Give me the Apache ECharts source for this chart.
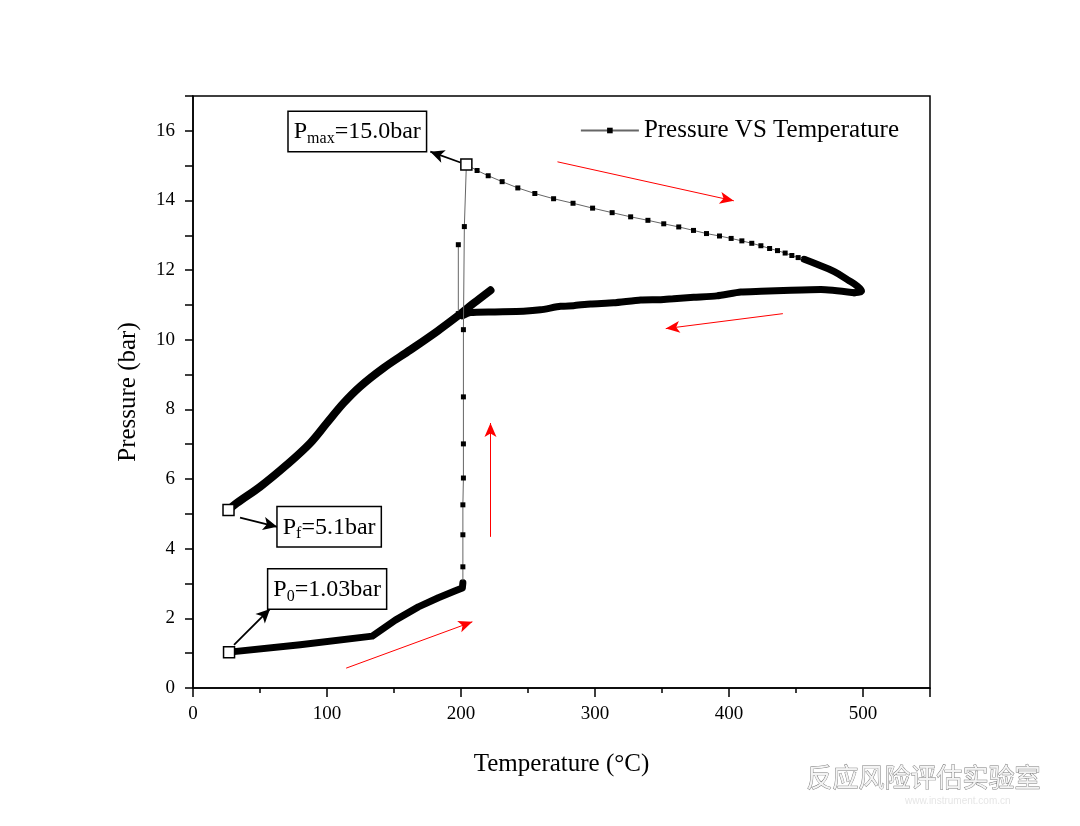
<!DOCTYPE html>
<html>
<head>
<meta charset="utf-8">
<script src="https://cdn.jsdelivr.net/npm/echarts@6/dist/echarts.min.js"></script>
<style>html,body{margin:0;padding:0;background:#fff}#c{width:1080px;height:826px}</style>
</head>
<body>
<div id="c"></div>
<script>
// ---------- data ----------
const seriesName = 'Pressure VS Temperature';
const xAxisName = 'Temperature (°C)';
const yAxisName = 'Pressure (bar)';
const xTickLabels = [0, 100, 200, 300, 400, 500];
const yTickLabels = [0, 2, 4, 6, 8, 10, 12, 14, 16];

// heating phase (dense samples, drawn thick)
const heatT = [26.9, 80.0, 133.8, 151.0, 168.2, 183.1, 195.8, 201.0, 201.4];
const heatP = [1.03, 1.24, 1.49, 1.95, 2.33, 2.59, 2.79, 2.87, 3.02];

// runaway jump + decreasing branch (sparse samples with markers)
const jumpT = [201.4, 201.4, 201.4, 201.4, 201.8, 201.8, 201.8, 201.8, 202.5, 204.0,
  212.0, 220.3, 230.7, 242.4, 255.1, 269.1, 283.6, 298.2, 312.8, 326.6, 339.5, 351.3,
  362.5, 373.5, 383.2, 392.9, 401.6, 409.6, 417.0, 423.8, 430.3, 436.2, 441.9, 446.9,
  451.6, 456.1];
const jumpP = [3.02, 3.48, 4.40, 5.26, 6.03, 7.01, 8.36, 10.29, 13.25, 15.03,
  14.86, 14.71, 14.54, 14.36, 14.20, 14.05, 13.92, 13.78, 13.65, 13.53, 13.43, 13.33,
  13.24, 13.14, 13.05, 12.98, 12.91, 12.84, 12.77, 12.70, 12.62, 12.56, 12.49, 12.42,
  12.36, 12.31];

// short spike near 198 °C
const spikeT = [198.0, 198.0];
const spikeP = [10.75, 12.73];

// turn-around and return (dense, drawn thick)
const turnT = [456.1, 466.1, 478.6, 488.6, 496.0, 498.9, 493.3];
const turnP = [12.31, 12.16, 11.96, 11.72, 11.53, 11.39, 11.35];
const returnT = [493.3, 468.6, 446.2, 423.8, 408.8, 390.9, 373.7, 358.7, 349.0, 334.1,
  313.9, 296.7, 284.0, 274.3, 259.3, 246.6, 224.2, 207.0, 201.0];
const returnP = [11.35, 11.44, 11.42, 11.39, 11.37, 11.26, 11.22, 11.18, 11.15, 11.14,
  11.06, 11.03, 10.98, 10.96, 10.86, 10.82, 10.80, 10.78, 10.69];

// cooling phase (dense, drawn thick)
const coolT = [222.0, 209.5, 197.1, 182.1, 162.2, 142.2, 124.8, 112.3, 99.9, 87.4,
  70.0, 50.1, 32.7, 26.5];
const coolP = [11.42, 11.05, 10.67, 10.24, 9.71, 9.19, 8.66, 8.18, 7.61, 7.03,
  6.41, 5.78, 5.31, 5.11];

// annotated points and their boxes
const notePointT = [26.9, 26.5, 204.0];
const notePointP = [1.03, 5.11, 15.03];
const noteMain = ['P', 'P', 'P'];
const noteSub = ['0', 'f', 'max'];
const noteRest = ['=1.03bar', '=5.1bar', '=15.0bar'];
const noteBoxT = [100.1, 101.6, 122.6];
const noteBoxP = [2.84, 4.63, 15.98];
// black pointer arrows (from point to box)
const pointerFrom = [[30.6, 1.24], [35.1, 4.89], [199.6, 15.09]];
const pointerTo = [[57.5, 2.27], [62.8, 4.63], [177.1, 15.40]];

// red direction arrows
const redFrom = [[114.3, 0.57], [222.0, 4.34], [272.0, 15.11], [440.2, 10.75]];
const redTo = [[208.5, 1.90], [222.0, 7.61], [403.6, 13.99], [352.8, 10.32]];

const watermark = '反应风险评估实验室';
const watermarkSub = 'www.instrument.com.cn';

// ---------- build ----------
const zip = (a, b) => a.map((v, i) => [v, b[i]]);
const serif = "'Liberation Serif','Times New Roman',serif";

const chart = echarts.init(document.getElementById('c'), null, {renderer: 'canvas'});

const thick = (name, data, smooth, width) => ({
  name, type: 'line', data, showSymbol: false, symbol: 'none', smooth: smooth,
  lineStyle: {color: '#000', width: width, cap: 'round', join: 'round'},
  itemStyle: {color: '#000'}, silent: true, z: 3
});

const option = {
  animation: false,
  backgroundColor: '#fff',
  grid: {left: 193, right: 150, top: 96, bottom: 138, show: true, borderColor: '#000', borderWidth: 1.5, backgroundColor: 'transparent'},
  legend: {
    data: [seriesName], right: 176, top: 113, itemWidth: 58, itemHeight: 7, itemGap: 6,
    textStyle: {fontFamily: serif, fontSize: 25, color: '#000'}, selectedMode: false
  },
  xAxis: [{
    type: 'value', min: 0, max: 550, interval: 50,
    name: xAxisName, nameLocation: 'middle', nameGap: 64,
    nameTextStyle: {fontFamily: serif, fontSize: 25, color: '#000'},
    axisLine: {show: true, lineStyle: {color: '#000', width: 1.5}},
    axisTick: {show: true, inside: false, length: 5, lineStyle: {color: '#000', width: 1.5}},
    axisLabel: {fontFamily: serif, fontSize: 19, color: '#000', margin: 17,
      formatter: v => xTickLabels.includes(v) ? String(v) : ''},
    splitLine: {show: false}
  }, {
    type: 'value', min: 0, max: 550, interval: 100, position: 'bottom', offset: 0,
    axisLine: {show: false},
    axisTick: {show: true, inside: false, length: 9, lineStyle: {color: '#000', width: 1.5}},
    axisLabel: {show: false}, splitLine: {show: false}
  }],
  yAxis: [{
    type: 'value', min: 0, max: 17, interval: 1,
    name: yAxisName, nameLocation: 'middle', nameGap: 52, nameRotate: 90,
    nameTextStyle: {fontFamily: serif, fontSize: 25, color: '#000'},
    axisLine: {show: true, lineStyle: {color: '#000', width: 1.5}},
    axisTick: {show: true, inside: false, length: 8, lineStyle: {color: '#000', width: 1.5}},
    axisLabel: {fontFamily: serif, fontSize: 19, color: '#000', margin: 18,
      formatter: v => yTickLabels.includes(v) ? String(v) : ''},
    splitLine: {show: false}
  }],
  series: [
    {
      name: seriesName, type: 'line', data: zip(jumpT, jumpP),
      symbol: 'rect', symbolSize: 5, showSymbol: true, showAllSymbol: true,
      lineStyle: {color: '#666', width: 1}, itemStyle: {color: '#000'}, z: 4, silent: true
    },
    {
      name: 'spike', type: 'line', data: zip(spikeT, spikeP),
      symbol: 'rect', symbolSize: 5, showSymbol: true,
      lineStyle: {color: '#666', width: 1}, itemStyle: {color: '#000'}, z: 4, silent: true
    },
    thick('heating', zip(heatT, heatP), false, 7),
    thick('turn', zip(turnT, turnP), 0.4, 7),
    thick('return', zip(returnT, returnP), 0.2, 7),
    thick('cooling', zip(coolT, coolP), 0.35, 8),
    {
      name: 'notePoints', type: 'scatter', data: zip(notePointT, notePointP),
      symbol: 'rect', symbolSize: 11, z: 6, silent: true,
      itemStyle: {color: '#fff', borderColor: '#000', borderWidth: 1.5, opacity: 1},
      markLine: {
        silent: true, symbol: ['none', 'arrow'], symbolSize: [10, 14], label: {show: false},
        lineStyle: {color: '#000', width: 1.8, type: 'solid', opacity: 1},
        data: pointerFrom.map((f, i) => [{coord: f}, {coord: pointerTo[i]}])
      }
    },
    {
      name: 'redArrows', type: 'line', data: [], silent: true,
      markLine: {
        silent: true, symbol: ['none', 'arrow'], symbolSize: [9, 14], label: {show: false},
        lineStyle: {color: '#f00', width: 1, type: 'solid'},
        data: redFrom.map((f, i) => [{coord: f}, {coord: redTo[i]}])
      }
    },
    {
      name: 'noteBoxes', type: 'scatter', symbolSize: 0, z: 7, silent: true,
      itemStyle: {opacity: 1},
      data: noteBoxT.map((t, i) => ({
        value: [t, noteBoxP[i]],
        label: {formatter: '{m|' + noteMain[i] + '}{s|' + noteSub[i] + '}{m|' + noteRest[i] + '}'}
      })),
      label: {
        show: true, position: 'inside', backgroundColor: '#fff', borderColor: '#000', borderWidth: 1.5,
        padding: [5, 5, 4, 5], opacity: 1,
        rich: {
          m: {fontFamily: serif, fontSize: 24, color: '#000', lineHeight: 30, verticalAlign: 'middle'},
          s: {fontFamily: serif, fontSize: 16, color: '#000', lineHeight: 14, verticalAlign: 'bottom'}
        }
      }
    }
  ],
  graphic: [
    {type: 'text', left: 806, top: 764, silent: true,
      style: {text: watermark, fontFamily: "'Noto Sans CJK SC',sans-serif", fontSize: 26, fill: '#f4f4f4',
        stroke: '#7a7a7a', lineWidth: 0.9}},
    {type: 'text', left: 905, top: 796, silent: true,
      style: {text: watermarkSub, fontFamily: 'sans-serif', fontSize: 10, fill: '#e6e6e6'}}
  ]
};
chart.setOption(option);
</script>
</body>
</html>
